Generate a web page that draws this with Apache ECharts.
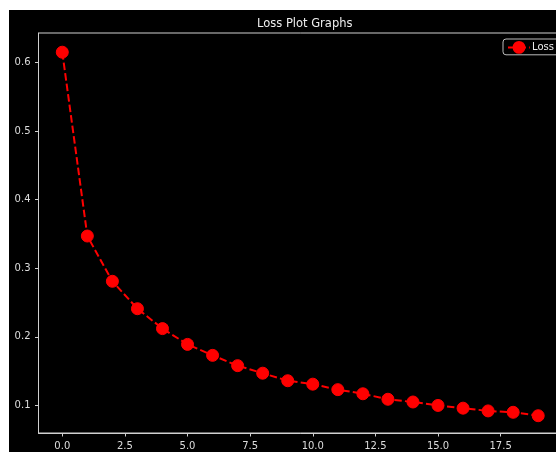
<!DOCTYPE html>
<html>
<head>
<meta charset="utf-8">
<script src="https://cdn.jsdelivr.net/npm/echarts@6/dist/echarts.min.js"></script>
<style>
html,body{margin:0;padding:0;background:#fff;width:556px;height:452px;overflow:hidden;}
#chart{position:absolute;left:9px;top:10px;width:600px;height:450px;background:#000;}
</style>
</head>
<body>
<div id="chart"></div>
<script>
const epochs = [0,1,2,3,4,5,6,7,8,9,10,11,12,13,14,15,16,17,18,19];
const lossValues = [0.615,0.347,0.281,0.241,0.212,0.189,0.173,0.158,0.147,0.136,0.131,0.123,0.117,0.109,0.105,0.100,0.096,0.092,0.090,0.085];
const xTicks = [0,2.5,5,7.5,10,12.5,15,17.5];
const yTicks = [0.1,0.2,0.3,0.4,0.5,0.6];
const titleText = 'Loss Plot Graphs';
const seriesName = 'Loss';

const chart = echarts.init(document.getElementById('chart'), null, {renderer:'canvas'});
const font = 'DejaVu Sans';
const spine = '#d0d0d0';
chart.setOption({
  backgroundColor:'#000',
  animation:false,
  title:{text:titleText,left:243,top:3,textStyle:{color:'#eee',fontFamily:font,fontSize:11.5,fontWeight:'normal'}},
  legend:{
    data:[seriesName],left:494,top:29,padding:[2,6,1,4],
    backgroundColor:'#000',borderColor:'#bbb',borderWidth:1,borderRadius:3,
    itemWidth:22,itemHeight:16,itemGap:5,
    textStyle:{color:'#eee',fontFamily:font,fontSize:10,padding:[0,0,0,-3]}
  },
  grid:{left:29.5,top:23,width:523.5,height:400,show:true,borderColor:spine,borderWidth:1,backgroundColor:'transparent',containLabel:false},
  xAxis:{
    type:'value',min:-0.95,max:19.95,
    splitLine:{show:false},
    axisLine:{show:true,onZero:false,lineStyle:{color:spine,width:1}},
    axisTick:{show:true,length:3.5,lineStyle:{color:spine},customValues:xTicks},
    axisLabel:{color:'#ddd',fontFamily:font,fontSize:10,margin:8,customValues:xTicks,formatter:v=>v.toFixed(1)}
  },
  yAxis:{
    type:'value',min:0.0598,max:0.643,
    splitLine:{show:false},
    axisLine:{show:true,onZero:false,lineStyle:{color:spine,width:1}},
    axisTick:{show:true,length:3.5,lineStyle:{color:spine},customValues:yTicks},
    axisLabel:{color:'#ddd',fontFamily:font,fontSize:10,margin:8,customValues:yTicks,formatter:v=>v.toFixed(1)}
  },
  series:[{
    name:seriesName,type:'line',
    data:epochs.map((e,i)=>[e,lossValues[i]]),
    symbol:'circle',symbolSize:12,showSymbol:true,
    itemStyle:{color:'#ff0000',borderColor:'#ff0000'},
    lineStyle:{color:'#ff0000',width:2,type:[7.4,3.2]},
    clip:false
  }]
});
</script>
</body>
</html>
